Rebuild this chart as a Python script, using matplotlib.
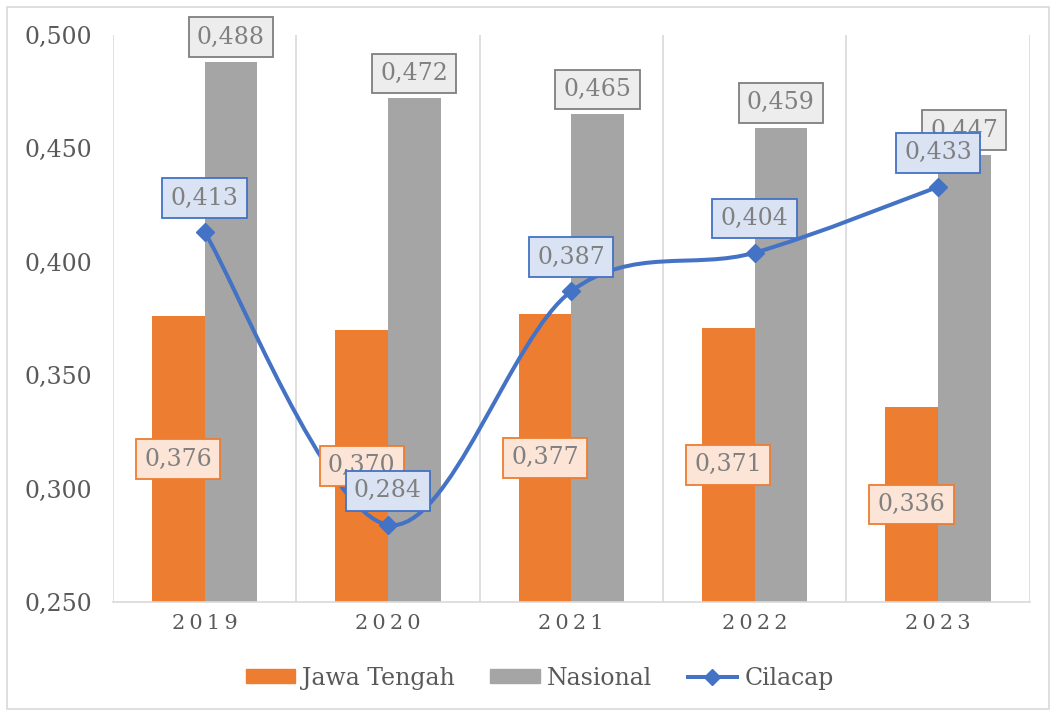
import numpy as np
import matplotlib
matplotlib.use("Agg")
import matplotlib.pyplot as plt
from matplotlib.path import Path
from matplotlib.patches import PathPatch, Rectangle
from matplotlib.lines import Line2D
from matplotlib.ticker import FuncFormatter

years = ["2019", "2020", "2021", "2022", "2023"]
jawa_tengah = [0.376, 0.370, 0.377, 0.371, 0.336]
nasional = [0.488, 0.472, 0.465, 0.459, 0.447]
cilacap = [0.413, 0.284, 0.387, 0.404, 0.433]

ORANGE = "#ED7D31"
GRAY = "#A5A5A5"
BLUE = "#4472C4"
TXT = "#808080"
AX_TXT = "#595959"

plt.rcParams["font.family"] = ["DejaVu Serif"]

fig = plt.figure(figsize=(10.56, 7.13), dpi=100)
ax = fig.add_axes([0.107, 0.1557, 0.868, 0.7953])

x = np.arange(len(years))
w = 0.287
ax.bar(x - w / 2, jawa_tengah, w, bottom=0, color=ORANGE, zorder=2)
ax.bar(x + w / 2, nasional, w, color=GRAY, zorder=2)

# smooth line (Excel-style cubic bezier through the points)
pts = np.column_stack([x, cilacap]).astype(float)
verts = [pts[0]]
codes = [Path.MOVETO]
n = len(pts)
for i in range(n - 1):
    p0 = pts[i - 1] if i > 0 else pts[i]
    p1 = pts[i]
    p2 = pts[i + 1]
    p3 = pts[i + 2] if i + 2 < n else pts[i + 1]
    c1 = p1 + (p2 - p0) / 6.0
    c2 = p2 - (p3 - p1) / 6.0
    verts += [c1, c2, p2]
    codes += [Path.CURVE4] * 3
ax.add_patch(PathPatch(Path(verts, codes), facecolor="none", edgecolor=BLUE,
                       lw=2.9, zorder=3, capstyle="round"))
ax.plot(x, cilacap, linestyle="none", marker="D", ms=9, color=BLUE, zorder=4)

def fmt(v):
    return ("%.3f" % v).replace(".", ",")

fs = 17
for i in range(n):
    ax.annotate(fmt(jawa_tengah[i]), (x[i] - w / 2, (jawa_tengah[i] + 0.25) / 2),
                ha="center", va="center", fontsize=fs, color=TXT, zorder=5,
                bbox=dict(boxstyle="square,pad=0.35", fc="#FCE4D6", ec=ORANGE, lw=1.3))
    ax.annotate(fmt(nasional[i]), (x[i] + w / 2, nasional[i]), xytext=(0, 18),
                textcoords="offset points", ha="center", va="center", fontsize=fs,
                color=TXT, zorder=5,
                bbox=dict(boxstyle="square,pad=0.35", fc="#EDEDED", ec="#7F7F7F", lw=1.3))
for i in range(n):
    ax.annotate(fmt(cilacap[i]), (x[i], cilacap[i]), xytext=(0, 24.5),
                textcoords="offset points", ha="center", va="center", fontsize=fs,
                color=TXT, zorder=6,
                bbox=dict(boxstyle="square,pad=0.35", fc="#DAE3F3", ec=BLUE, lw=1.3))

ax.set_xlim(-0.5, n - 0.5)
ax.set_ylim(0.25, 0.5)
ax.set_yticks([0.25, 0.30, 0.35, 0.40, 0.45, 0.50])
ax.yaxis.set_major_formatter(FuncFormatter(lambda v, p: fmt(v)))
ax.set_xticks(x)
ax.set_xticklabels(["\u2009".join(y) for y in years])
ax.tick_params(axis="both", length=0, colors=AX_TXT)
ax.tick_params(axis="y", labelsize=fs, pad=15)
ax.tick_params(axis="x", labelsize=15, pad=9)
for b in np.arange(-0.5, n, 1.0):
    ax.axvline(b, color="#D9D9D9", lw=1.2, zorder=1)
for s in ["top", "right", "left"]:
    ax.spines[s].set_visible(False)
ax.spines["bottom"].set_color("#D9D9D9")
ax.spines["bottom"].set_linewidth(1.2)

handles = [
    Rectangle((0, 0), 1, 1, color=ORANGE),
    Rectangle((0, 0), 1, 1, color=GRAY),
    Line2D([], [], color=BLUE, lw=2.9, marker="D", ms=8),
]
fig.legend(handles, ["Jawa Tengah", "Nasional", "Cilacap"], loc="center",
           bbox_to_anchor=(0.511, 0.049), ncol=3, frameon=False, fontsize=fs,
           handlelength=2.1, handleheight=0.55, columnspacing=1.5, handletextpad=0.3,
           labelcolor=AX_TXT)

fig.patches.append(Rectangle((0.007, 0.005), 0.986, 0.985, transform=fig.transFigure,
                             fill=False, ec="#D9D9D9", lw=1.2))

fig.savefig("out.png", dpi=100)
